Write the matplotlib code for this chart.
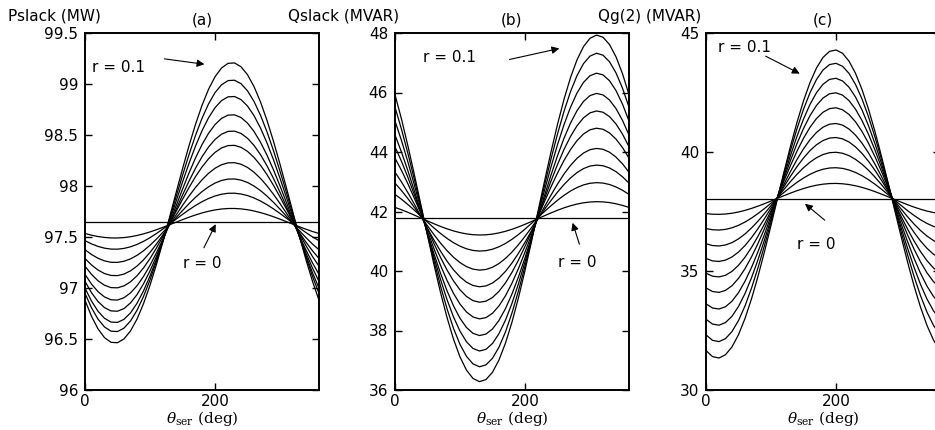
import numpy as np
import matplotlib
matplotlib.use("Agg")
from matplotlib import pyplot as plt

# r = 0, 0.01, ..., 0.1 (one curve per value)
r_values = [0.0, 0.01, 0.02, 0.03, 0.04, 0.05, 0.06, 0.07, 0.08, 0.09, 0.1]
theta = np.arange(0, 361, 10)

# values: max / min of each curve and where the max sits
pslack_peak = [97.65, 97.78, 97.93, 98.07, 98.23, 98.40, 98.54, 98.70, 98.88, 99.04, 99.21]
pslack_trough = [97.65, 97.49, 97.38, 97.25, 97.12, 97.00, 96.88, 96.77, 96.66, 96.57, 96.46]
pslack_peak_deg = 226

qslack_peak = [41.78, 42.33, 42.97, 43.56, 44.12, 44.80, 45.38, 45.97, 46.65, 47.32, 47.93]
qslack_trough = [41.78, 41.21, 40.67, 40.03, 39.47, 38.95, 38.39, 37.83, 37.31, 36.78, 36.28]
qslack_peak_deg = 311

qg2_peak = [38.03, 38.68, 39.34, 39.99, 40.61, 41.20, 41.86, 42.49, 43.10, 43.73, 44.29]
qg2_trough = [38.03, 37.38, 36.72, 36.05, 35.40, 34.75, 34.10, 33.40, 32.72, 32.03, 31.34]
qg2_peak_deg = 198

plt.rcParams['mathtext.fontset'] = 'dejavuserif'

fig = plt.figure(figsize=(9.35, 4.3), dpi=100)
W, H = 935.0, 430.0


def make_axes(left_px):
    return fig.add_axes([left_px / W, 40 / H, 234 / W, 357 / H])


panels = [
    dict(left=85, peak=pslack_peak, trough=pslack_trough, pk=pslack_peak_deg,
         ylim=(96, 99.5), yticks=[96, 96.5, 97, 97.5, 98, 98.5, 99, 99.5],
         yticklabels=["96", "96.5", "97", "97.5", "98", "98.5", "99", "99.5"],
         ylabel="Pslack (MW)", ylabel_x=8, title="(a)",
         t01=(11, 99.16), a01=((118, 99.25), (188, 99.19)),
         t0=(151, 97.24), a0=((181, 97.37), (203, 97.65))),
    dict(left=395, peak=qslack_peak, trough=qslack_trough, pk=qslack_peak_deg,
         ylim=(36, 48), yticks=[36, 38, 40, 42, 44, 46, 48],
         yticklabels=["36", "38", "40", "42", "44", "46", "48"],
         ylabel="Qslack (MVAR)", ylabel_x=288, title="(b)",
         t01=(43, 47.16), a01=((172, 47.09), (257, 47.5)),
         t0=(251, 40.3), a0=((285, 40.81), (272, 41.71))),
    dict(left=706, peak=qg2_peak, trough=qg2_trough, pk=qg2_peak_deg,
         ylim=(30, 45), yticks=[30, 35, 40, 45],
         yticklabels=["30", "35", "40", "45"],
         ylabel="Qg(2) (MVAR)", ylabel_x=598, title="(c)",
         t01=(18, 44.41), a01=((88, 44.08), (148, 43.24)),
         t0=(140, 36.13), a0=((186, 37.06), (149, 37.9))),
]

arrow = dict(arrowstyle='-|>', color='k', lw=0.8, mutation_scale=11)

for p in panels:
    ax = make_axes(p['left'])
    for hi, lo in zip(p['peak'], p['trough']):
        mid = (hi + lo) / 2.0
        half = (hi - lo) / 2.0
        ax.plot(theta, mid + half * np.cos(np.radians(theta - p['pk'])),
                color='k', lw=0.9)
    ax.set_xlim(0, 360)
    ax.set_ylim(*p['ylim'])
    ax.set_xticks([0, 200])
    ax.set_xticklabels(["0", "200"], fontsize=11)
    ax.set_yticks(p['yticks'])
    ax.set_yticklabels(p['yticklabels'], fontsize=11)
    ax.tick_params(direction='in', length=5, width=1, top=True, right=True, pad=5)
    ax.tick_params(axis='x', pad=3)
    for s in ax.spines.values():
        s.set_linewidth(1.4)
    ax.set_title(p['title'], fontsize=11, pad=6)
    ax.set_xlabel(r'$\theta_{\mathrm{ser}}$ (deg)', fontsize=11,
                  family='DejaVu Serif', labelpad=0)
    fig.text(p['ylabel_x'] / W, 1 - 16 / H, p['ylabel'], fontsize=11,
             ha='left', va='center')
    ax.text(*p['t01'], "r = 0.1", fontsize=11, ha='left', va='center')
    ax.annotate("", xy=p['a01'][1], xytext=p['a01'][0], arrowprops=arrow)
    ax.text(*p['t0'], "r = 0", fontsize=11, ha='left', va='center')
    ax.annotate("", xy=p['a0'][1], xytext=p['a0'][0], arrowprops=arrow)

fig.savefig("out.png", dpi=100)
